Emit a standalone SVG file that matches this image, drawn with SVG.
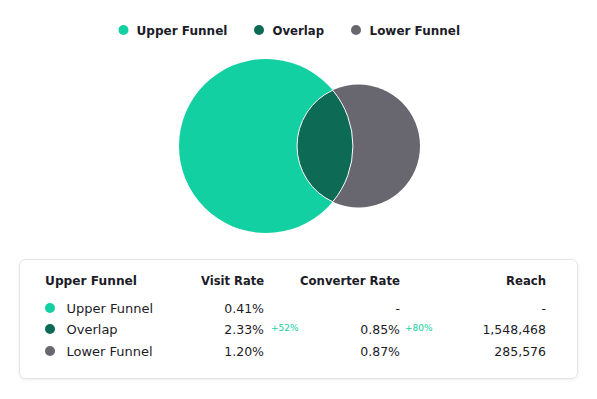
<svg xmlns="http://www.w3.org/2000/svg" width="597" height="399" viewBox="0 0 597 399">
<defs>
<style>
text{font-family:"DejaVu Sans","Noto Sans",sans-serif;fill:#1c1c28;font-size:12.5px}
.lg{font-weight:600;font-size:12.2px}
.hd{font-weight:600;font-size:12px}
.lb{font-size:13px}
.r{text-anchor:end}
.up{fill:#13d0a2}
.ov{fill:#0d6b55}
.lo{fill:#68666f}
.d{font-size:9px;fill:#13d0a2}
</style>
<filter id="sh" x="-5%" y="-10%" width="110%" height="130%"><feDropShadow dx="0" dy="1" stdDeviation="1.5" flood-color="#000" flood-opacity="0.08"/></filter>
</defs>
<rect width="597" height="399" fill="#fff"/>
<g id="legend">
<circle class="up" cx="123.5" cy="30" r="5"/><text class="lg" x="136.5" y="35" textLength="91" lengthAdjust="spacingAndGlyphs">Upper Funnel</text>
<circle class="ov" cx="259" cy="30" r="5"/><text class="lg" x="272.5" y="35" textLength="51.5" lengthAdjust="spacingAndGlyphs">Overlap</text>
<circle class="lo" cx="356" cy="30" r="5"/><text class="lg" x="369.5" y="35" textLength="90.5" lengthAdjust="spacingAndGlyphs">Lower Funnel</text>
</g>
<g id="upper"><circle class="up" cx="266" cy="146" r="87"/></g>
<g id="lower"><circle class="lo" cx="358.5" cy="146" r="61.5"/></g>
<g id="overlap"><path class="ov" d="M332.7 90.2 A61.5 61.5 0 0 0 332.7 201.8 A87 87 0 0 0 332.7 90.2 Z" stroke="#fff" stroke-width="1"/></g>
<g id="table">
<rect x="19.5" y="259.5" width="558" height="119" rx="6" fill="#fff" stroke="#e4e4e8" filter="url(#sh)"/>
<text class="hd" x="45" y="285" textLength="92" lengthAdjust="spacingAndGlyphs">Upper Funnel</text>
<text class="hd" x="201" y="285" textLength="63" lengthAdjust="spacingAndGlyphs">Visit Rate</text>
<text class="hd" x="300" y="285" textLength="100" lengthAdjust="spacingAndGlyphs">Converter Rate</text>
<text class="hd" x="506" y="285" textLength="40" lengthAdjust="spacingAndGlyphs">Reach</text>
<circle class="up" cx="50" cy="308" r="5"/><text class="lb" x="66.5" y="313">Upper Funnel</text>
<text class="r" x="264" y="313">0.41%</text><text class="r" x="400" y="313">-</text><text class="r" x="546" y="313">-</text>
<circle class="ov" cx="50" cy="329" r="5"/><text class="lb" x="66.5" y="334">Overlap</text>
<text class="r" x="264" y="334">2.33%</text><text class="d" x="271" y="331">+52%</text>
<text class="r" x="400" y="334">0.85%</text><text class="d" x="405" y="331">+80%</text>
<text class="r" x="546" y="334">1,548,468</text>
<circle class="lo" cx="50" cy="351" r="5"/><text class="lb" x="66.5" y="356">Lower Funnel</text>
<text class="r" x="264" y="356">1.20%</text><text class="r" x="400" y="356">0.87%</text><text class="r" x="546" y="356">285,576</text>
</g>
</svg>
